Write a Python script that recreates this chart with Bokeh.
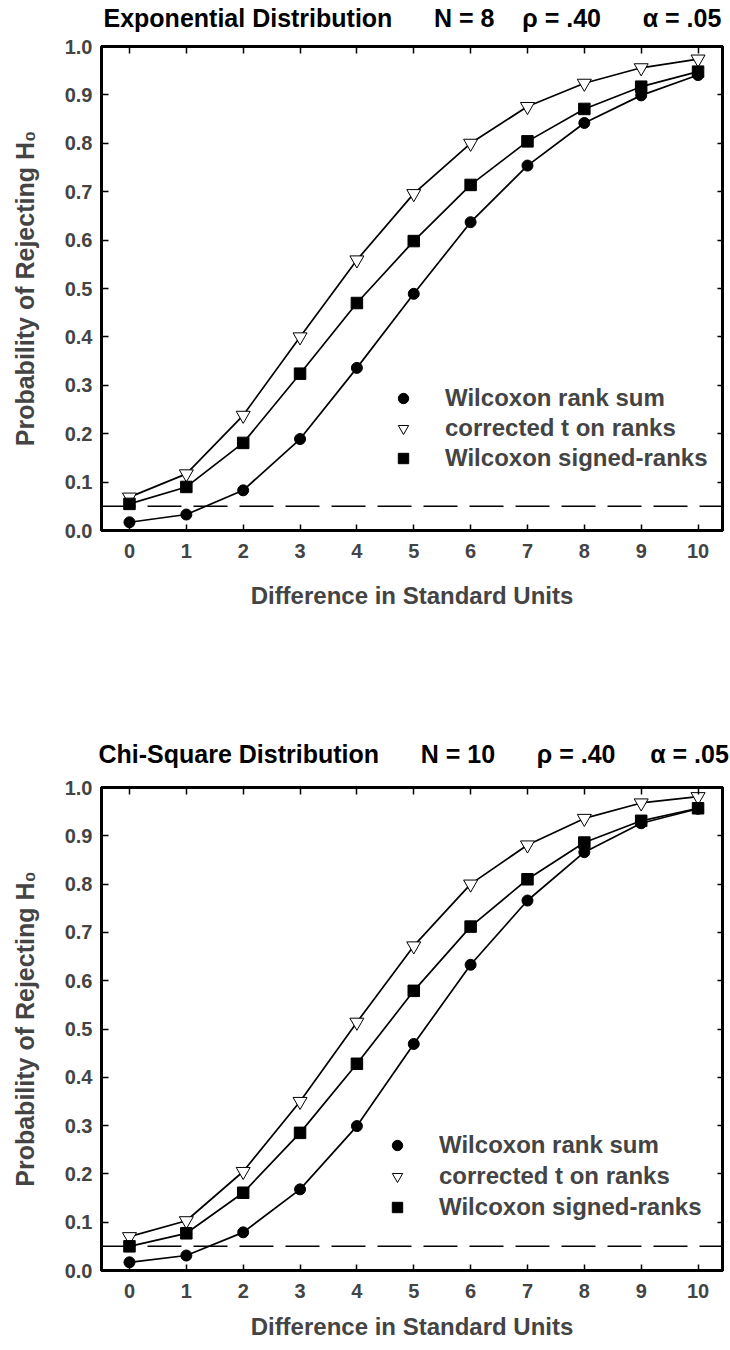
from bokeh.plotting import figure
from bokeh.models import (Range1d, LinearAxis, FixedTicker, Span, Title,
                          CustomJSTickFormatter, Legend, LegendItem)
from bokeh.layouts import column
from bokeh.embed import file_html
from bokeh.resources import INLINE

# ---------------- data ----------------
diff = [0, 1, 2, 3, 4, 5, 6, 7, 8, 9, 10]
x_tick_labels = ["0", "1", "2", "3", "4", "5", "6", "7", "8", "9", "10"]
y_ticks = [0.0, 0.1, 0.2, 0.3, 0.4, 0.5, 0.6, 0.7, 0.8, 0.9, 1.0]
alpha_level = 0.05

series_names = ["Wilcoxon rank sum", "corrected t on ranks", "Wilcoxon signed-ranks"]

# Exponential distribution, N = 8
exp_rank_sum = [0.017, 0.033, 0.083, 0.189, 0.336, 0.489, 0.637, 0.754, 0.842, 0.899, 0.941]
exp_t_ranks = [0.069, 0.117, 0.238, 0.400, 0.559, 0.696, 0.800, 0.876, 0.924, 0.956, 0.974]
exp_signed = [0.055, 0.090, 0.181, 0.324, 0.470, 0.598, 0.714, 0.804, 0.871, 0.917, 0.948]

# Chi-square distribution, N = 10
chi_rank_sum = [0.017, 0.031, 0.079, 0.168, 0.299, 0.469, 0.633, 0.766, 0.866, 0.926, 0.956]
chi_t_ranks = [0.070, 0.103, 0.205, 0.350, 0.514, 0.672, 0.800, 0.881, 0.936, 0.968, 0.981]
chi_signed = [0.050, 0.077, 0.161, 0.285, 0.428, 0.579, 0.712, 0.810, 0.886, 0.931, 0.957]

top_title = ["Exponential Distribution", "N = 8", "\u03c1 = .40", "\u03b1 = .05"]
bottom_title = ["Chi-Square Distribution", "N = 10", "\u03c1 = .40", "\u03b1 = .05"]

FONT = "Liberation Sans"
W, H = 730, 675
LEFT, RIGHT = 101, 8
X0, X1 = -0.492, 10.43
NB = "\u00a0"


def style_axis(ax, tick_in):
    ax.axis_line_width = 3
    ax.axis_line_color = "black"
    ax.major_tick_in = tick_in
    ax.major_tick_out = 0
    ax.major_tick_line_width = 1.5
    ax.minor_tick_line_color = None


def blank_axis(ticks, tick_in, lift=None):
    ax = LinearAxis(ticker=FixedTicker(ticks=ticks))
    ax.formatter = CustomJSTickFormatter(code="return ''")
    ax.major_label_text_font_size = "1px"
    ax.major_label_standoff = 0
    if lift is not None:
        # an invisible (blank) axis label keeps the title at its distance
        ax.axis_label = NB
        ax.axis_label_text_font_size = "10px"
        ax.axis_label_standoff = lift
    style_axis(ax, tick_in)
    return ax


def make_panel(rank_sum, t_ranks, signed, title_parts, gaps, title_offset, title_lift,
               top_b, bot_b, legend_loc, legend_spacing, xlab_standoff):
    title_text = title_parts[0]
    for gap, part in zip(gaps, title_parts[1:]):
        title_text += NB * gap + part
    title = Title(text=title_text, align="left", offset=title_offset,
                  standoff=0, text_font=FONT, text_font_style="bold",
                  text_font_size="25px", text_color="black")

    p = figure(width=W, height=H, output_backend="svg", toolbar_location=None,
               x_range=Range1d(X0, X1), y_range=Range1d(0, 1),
               x_axis_type=None, y_axis_type=None, title=title,
               min_border_left=LEFT, min_border_right=RIGHT,
               min_border_top=top_b, min_border_bottom=bot_b)
    p.outline_line_color = "black"
    p.outline_line_width = 3
    p.background_fill_color = "white"
    p.border_fill_color = "white"

    # bottom axis
    xb = LinearAxis(ticker=FixedTicker(ticks=diff),
                    major_label_overrides={d: s for d, s in zip(diff, x_tick_labels)})
    style_axis(xb, 6)
    xb.major_label_standoff = 13
    xb.major_label_text_font = FONT
    xb.major_label_text_font_style = "bold"
    xb.major_label_text_font_size = "20px"
    xb.axis_label = "Difference in Standard Units"
    xb.axis_label_text_font = FONT
    xb.axis_label_text_font_style = "bold"
    xb.axis_label_text_font_size = "24px"
    xb.axis_label_standoff = xlab_standoff
    p.add_layout(xb, "below")

    # left axis
    yl = LinearAxis(ticker=FixedTicker(ticks=y_ticks))
    style_axis(yl, 7)
    yl.formatter = CustomJSTickFormatter(code="return tick.toFixed(1)")
    yl.major_label_standoff = 9
    yl.major_label_text_font = FONT
    yl.major_label_text_font_style = "bold"
    yl.major_label_text_font_size = "20px"
    yl.axis_label = "Probability of Rejecting H\u2080"
    yl.axis_label_text_font = FONT
    yl.axis_label_text_font_style = "bold"
    yl.axis_label_text_font_size = "25px"
    yl.axis_label_standoff = 23
    p.add_layout(yl, "left")

    # mirrored axes (ticks only)
    p.add_layout(blank_axis(diff, 7, title_lift), "above")
    p.add_layout(blank_axis(y_ticks[1:-1], 5), "right")

    # reference line at alpha
    p.add_layout(Span(location=alpha_level, dimension="width", line_color="black",
                      line_width=1.5, line_dash="34 12"))

    # lines
    for vals in (rank_sum, t_ranks, signed):
        p.line(diff, vals, line_color="black", line_width=1.7)

    r_c = p.scatter(diff, rank_sum, marker="circle", size=11,
                    fill_color="black", line_color="black")
    r_t = p.scatter(diff, t_ranks, marker="inverted_triangle", size=14,
                    fill_color="white", line_color="black", line_width=1)
    r_s = p.scatter(diff, signed, marker="square", size=11.5,
                    fill_color="black", line_color="black")

    legend = Legend(items=[LegendItem(label=series_names[0], renderers=[r_c]),
                           LegendItem(label=series_names[1], renderers=[r_t]),
                           LegendItem(label=series_names[2], renderers=[r_s])],
                    location=legend_loc, padding=0, margin=0,
                    spacing=legend_spacing, glyph_width=26, glyph_height=26,
                    label_height=26, label_standoff=29,
                    label_text_font=FONT, label_text_font_style="bold",
                    label_text_font_size="24px",
                    background_fill_alpha=0, border_line_color=None)
    p.add_layout(legend, "center")
    return p


p_top = make_panel(exp_rank_sum, exp_t_ranks, exp_signed, top_title,
                   (6, 4, 6), 2, 1, 46, 145, (289, 58), 2, 21)
p_bot = make_panel(chi_rank_sum, chi_t_ranks, chi_signed, bottom_title,
                   (6, 6, 5), -3, 6, 112, 80, (283, 49), 3, 12)

layout = column(p_top, p_bot, spacing=0)
open("out.html", "w").write(file_html(layout, INLINE))
